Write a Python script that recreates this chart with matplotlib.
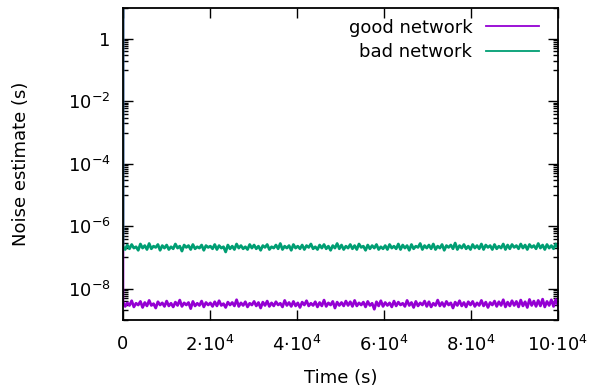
import numpy as np
import matplotlib.pyplot as plt
from matplotlib.ticker import FixedLocator, NullFormatter

# noise estimates (good network in 1e-9 s, bad network in 1e-7 s)
good_net = [3.8,2.7,3.5,2.9,4.1,2.6,3.4,3.0,3.9,2.5,3.6,2.8,4.2,2.9,3.3,2.4,3.8,3.0,3.5,2.7,
            4.0,2.8,3.4,2.6,3.7,2.9,4.3,2.7,3.5,3.0,3.6,2.3,3.9,2.8,3.4,2.9,4.0,2.6,3.6,3.0,
            3.5,2.7,3.8,2.8,4.1,2.9,3.3,2.5,3.7,3.0,3.6,2.8,4.4,2.7,3.5,2.9,3.8,2.6,3.4,3.0,
            3.9,2.8,3.6,2.4,3.7,2.9,4.0,2.7,3.5,2.8,3.8,3.0,3.4,2.6,4.2,2.9,3.6,2.7,3.9,2.8,
            3.5,2.5,3.7,3.0,4.1,2.8,3.4,2.9,3.8,2.6,3.6,2.8,4.3,2.7,3.5,3.0,3.9,2.4,3.7,2.9,
            3.6,2.8,4.0,2.9,3.8,2.7,4.2,2.8,3.5,3.0,3.7,2.6,3.9,2.9,3.4,2.2,3.8,2.8,4.1,2.7,
            3.6,2.9,3.5,2.6,4.0,2.8,3.7,3.0,3.4,2.7,4.2,2.9,3.6,2.5,3.9,2.8,3.5,3.0,4.0,2.7,
            3.8,2.6,3.4,2.9,4.3,2.8,3.6,2.7,3.9,3.0,3.5,2.4,3.7,2.9,4.1,2.8,3.6,2.6,3.8,3.0,
            3.9,2.7,3.5,2.9,4.2,2.8,3.7,2.5,3.6,3.0,4.0,2.7,3.8,2.9,4.4,2.6,3.7,2.8,4.1,2.9,
            3.9,2.6,4.3,2.8,3.8,2.5,4.5,2.9,4.0,2.7,4.2,2.8,4.6,2.6,3.9,2.9,4.4,2.7,4.5,3.0]
bad_net = [2.3,1.8,2.5,1.9,2.6,2.0,2.2,1.7,2.7,2.0,2.4,1.8,2.8,1.9,2.3,2.1,2.6,1.7,2.4,2.0,
           2.5,1.8,2.2,1.9,2.7,2.0,2.3,1.6,2.5,2.1,2.4,1.8,2.6,1.9,2.2,2.0,2.5,1.7,2.4,2.1,
           2.3,1.9,2.6,1.8,2.4,2.0,2.2,1.5,2.5,1.9,2.3,1.8,2.7,2.0,2.4,1.9,2.2,1.8,2.6,2.0,
           2.5,1.9,2.3,1.7,2.4,2.1,2.6,1.8,2.2,2.0,2.5,1.9,2.8,1.8,2.3,2.0,2.4,1.7,2.6,2.0,
           2.3,1.9,2.5,1.8,2.4,2.1,2.7,1.9,2.2,1.8,2.5,2.0,2.6,1.9,2.3,1.7,2.4,2.0,2.8,1.9,
           2.5,1.8,2.3,2.0,2.6,1.9,2.4,1.8,2.7,2.1,2.3,1.7,2.5,1.9,2.4,2.0,2.6,1.8,2.2,1.9,
           2.4,1.8,2.6,2.0,2.3,1.9,2.7,1.8,2.5,2.0,2.4,1.7,2.6,1.9,2.3,2.1,2.8,1.8,2.4,2.0,
           2.5,1.9,2.7,1.8,2.3,2.0,2.6,1.7,2.4,2.1,2.5,1.9,2.9,1.8,2.4,2.0,2.6,1.9,2.3,1.8,
           2.6,2.0,2.4,1.9,2.7,1.8,2.5,2.1,2.4,1.8,2.6,1.9,2.3,2.0,2.7,1.8,2.5,1.9,2.6,2.1,
           2.4,1.9,2.7,2.0,2.5,1.8,2.6,2.1,2.4,1.9,2.8,2.0,2.5,1.8,2.6,2.0,2.4,1.9,2.7,2.1]
initial_estimate = 10.0
t_end = 1e5

x_ticks = [0, 2e4, 4e4, 6e4, 8e4, 1e5]
x_labels = ['0', '2·10$^{4}$', '4·10$^{4}$', '6·10$^{4}$', '8·10$^{4}$', '10·10$^{4}$']
y_ticks = [1e-8, 1e-6, 1e-4, 1e-2, 1]
y_labels = ['10$^{-8}$', '10$^{-6}$', '10$^{-4}$', '10$^{-2}$', '1']

plt.rcParams['font.family'] = 'DejaVu Sans'
plt.rcParams['font.size'] = 13
plt.rcParams['mathtext.fontset'] = 'dejavusans'
plt.rcParams['axes.unicode_minus'] = False

fig = plt.figure(figsize=(5.91, 3.92), dpi=100)
ax = fig.add_axes([0.208, 0.184, 0.736, 0.796])

t = np.linspace(0, t_end, len(good_net))
tg = np.concatenate([[0], t])
yg = np.concatenate([[initial_estimate], np.array(good_net) * 1e-9])
yb = np.concatenate([[initial_estimate], np.array(bad_net) * 1e-7])

ax.plot(tg, yg, color='#9400d3', lw=2.0, label='good network')
ax.plot(tg, yb, color='#009e73', lw=2.0, label='bad network')

ax.set_yscale('log')
ax.set_xlim(0, t_end)
ax.set_ylim(1e-9, 10)

ax.set_xticks(x_ticks)
ax.set_xticklabels(x_labels)
ax.set_yticks(y_ticks)
ax.set_yticklabels(y_labels)
minors = [m * 10.0**e for e in range(-8, 3, 2) for m in np.arange(0.1, 1.0, 0.1)]
ax.yaxis.set_minor_locator(FixedLocator(minors))
ax.yaxis.set_minor_formatter(NullFormatter())

ax.tick_params(which='both', direction='in', top=True, right=True, width=1.0)
ax.tick_params(which='major', length=7, pad=9)
ax.tick_params(which='minor', length=3.5)
ax.tick_params(axis='x', which='major', pad=11)
for s in ax.spines.values():
    s.set_linewidth(1.3)

ax.set_xlabel('Time (s)', labelpad=10)
ax.set_ylabel('Noise estimate (s)', labelpad=27)

leg = ax.legend(loc='upper right', bbox_to_anchor=(0.956, 0.965), frameon=False,
                markerfirst=False, handlelength=2.9, handletextpad=0.78,
                borderpad=0, borderaxespad=0, labelspacing=0.35)
for h in leg.get_lines():
    h.set_linewidth(1.3)

fig.savefig('out.png', dpi=100)
